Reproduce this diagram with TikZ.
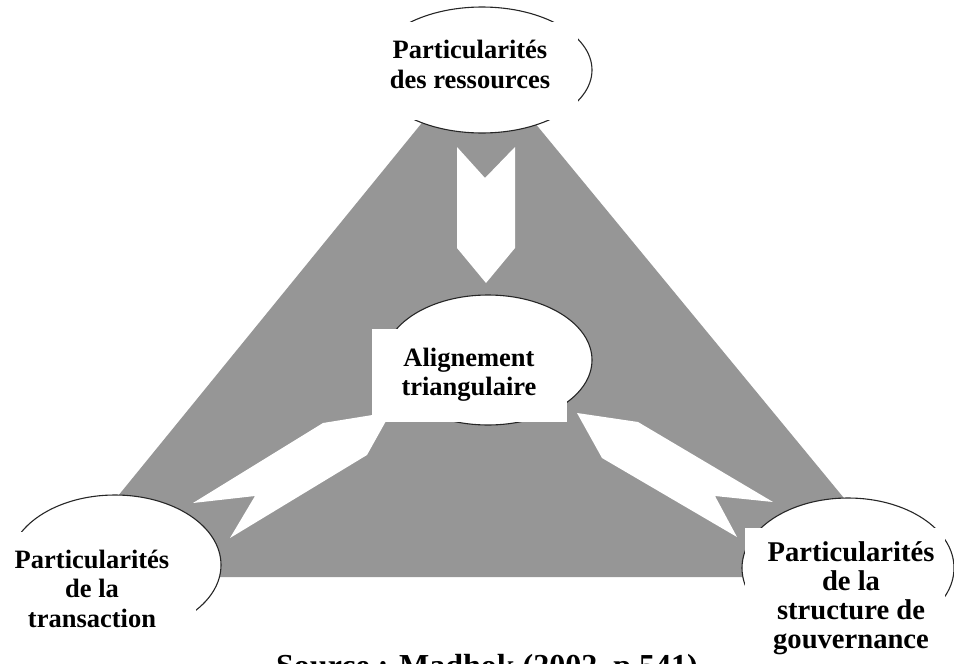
\documentclass[tikz,border=0pt]{standalone}
\usepackage{fontspec}
\setmainfont{Liberation Serif}
\begin{document}
\begin{tikzpicture}[x=1pt,y=-1pt,
  panel/.style={fill=black!41},
  flow/.style={fill=white},
  bubble/.style={draw=black!85,line width=1.1pt,fill=white},
  mask/.style={fill=white},
  lbl/.style={anchor=base,inner sep=0pt,font=\bfseries\fontsize{26.5}{29.5}\selectfont},
  lblbig/.style={anchor=base,inner sep=0pt,font=\bfseries\fontsize{28.6}{29}\selectfont}]
\useasboundingbox (0,0) rectangle (954,664);
\clip (0,0) rectangle (954,664);

% grey triangle
\fill[panel] (478,54) -- (909,577) -- (52,577) -- cycle;

% white notched arrows pointing to the centre
\fill[flow] (457,147) -- (485,178) -- (515,147) -- (515,248) -- (486,283) -- (457,248) -- cycle;
\fill[flow] (193,503) -- (323,423) -- (391,412) -- (367,455) -- (230,538) -- (255,496) -- cycle;
\fill[flow] (773,502) -- (638,422) -- (577,413) -- (602,458) -- (737,537) -- (715,496) -- cycle;

% bubbles
\draw[bubble] (482,70) ellipse [x radius=110, y radius=63];
\draw[bubble] (488,360) ellipse [x radius=104, y radius=65];
\draw[bubble] (115,565) ellipse [x radius=106, y radius=70];
\draw[bubble] (848,568) ellipse [x radius=106, y radius=70];

% text backgrounds
\fill[mask] (368,22) rectangle (578,120);
\fill[mask] (372,329) rectangle (567,422);
\fill[mask] (0,532) rectangle (196,664);
\fill[mask] (745,528) rectangle (945,664);

% labels
\node[lbl] (res1) at (470,58) {Particularités};
\node[lbl] (res2) at (470,88) {des ressources};

\node[lbl] (ali1) at (469,366) {Alignement};
\node[lbl] (ali2) at (469,395) {triangulaire};

\node[lbl] (tra1) at (92,568) {Particularités};
\node[lbl] (tra2) at (92,597) {de la};
\node[lbl] (tra3) at (92,627) {transaction};

\node[lblbig] (gov1) at (851,561) {Particularités};
\node[lblbig] (gov2) at (851,590) {de la};
\node[lblbig] (gov3) at (851,619) {structure de};
\node[lblbig] (gov4) at (851,648) {gouvernance};

\node[anchor=base,inner sep=0pt,font=\bfseries\fontsize{32}{36}\selectfont] (src) at (487,676) {Source : Madhok (2002, p.541)};
\end{tikzpicture}
\end{document}
